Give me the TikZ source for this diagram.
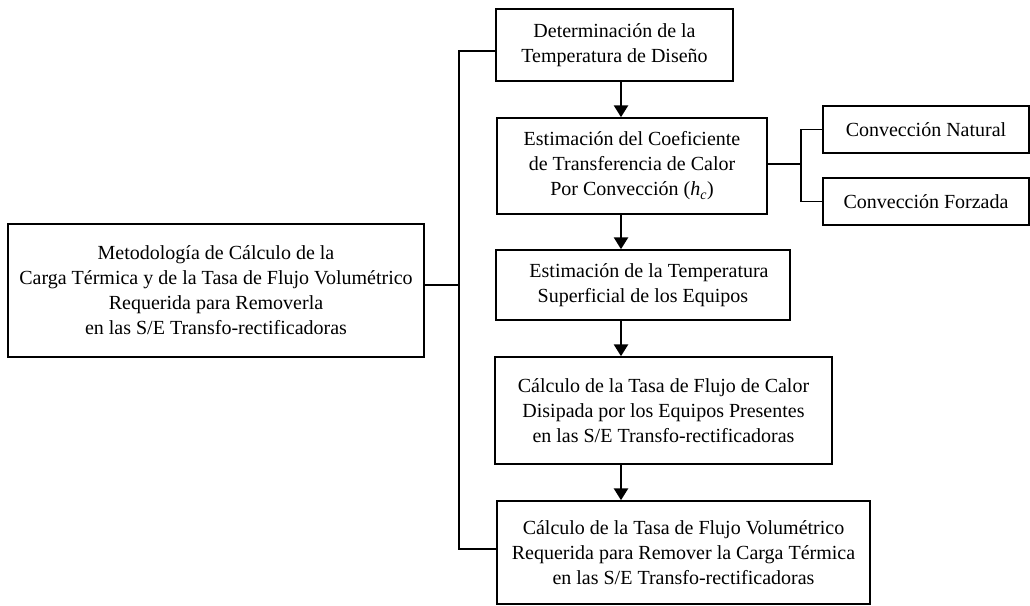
\documentclass[tikz,border=0pt]{standalone}
\usepackage{fontspec}
\setmainfont{Liberation Serif}
\usetikzlibrary{arrows.meta}
\begin{document}
\begin{tikzpicture}[x=1pt,y=-1pt,
  box/.style={draw, line width=1.5pt, align=center, inner sep=0pt,
    font=\fontsize{20}{25}\selectfont},
  conn/.style={line width=1.1pt},
  arr/.style={line width=2.8pt, -{Triangle[length=12pt,width=14pt]}}]
\useasboundingbox (0,0) rectangle (1030,605);
\fill[white] (0,0) rectangle (1030,605);
\node[box, minimum width=416pt, minimum height=133pt] (lb) at (216,290.5)
  {Metodología de Cálculo de la\\Carga Térmica y de la Tasa de Flujo Volumétrico\\Requerida para Removerla\\en las S/E Transfo-rectificadoras};
\node[box, minimum width=237pt, minimum height=72pt] (b1) at (614.5,45)
  {Determinación de la\\Temperatura de Diseño};
\node[box, minimum width=270pt, minimum height=96pt] (b2) at (632,166)
  {Estimación del Coeficiente\\de Transferencia de Calor\\Por Convección (\textit{h}\textsubscript{\textit{c}})};
\node[box, minimum width=294pt, minimum height=70pt] (b3) at (643,285)
  {\hspace*{12pt}Estimación de la Temperatura\\Superficial de los Equipos};
\node[box, minimum width=337pt, minimum height=107pt] (b4) at (663.5,410.5)
  {Cálculo de la Tasa de Flujo de Calor\\Disipada por los Equipos Presentes\\en las S/E Transfo-rectificadoras};
\node[box, minimum width=373pt, minimum height=103pt] (b5) at (683.5,552.5)
  {Cálculo de la Tasa de Flujo Volumétrico\\Requerida para Remover la Carga Térmica\\en las S/E Transfo-rectificadoras};
\node[box, minimum width=206pt, minimum height=47pt] (cn) at (926,129.5)
  {Convección Natural};
\node[box, minimum width=206pt, minimum height=47pt] (cf) at (926,201.5)
  {Convección Forzada};
% trunk
\coordinate (jt) at (459,51);
\coordinate (jm) at (459,285);
\coordinate (jb) at (459,549);
\draw[conn] (b1.west |- jt) -- (jt) -- (jb) -- (b5.west |- jb);
\draw[conn] (lb.east |- jm) -- (jm);
% branch
\coordinate (br) at (801,164);
\draw[conn] (b2.east |- br) -- (br);
\draw[conn] (cn.west) -| (br) |- (cf.west);
% arrows
\coordinate (ax) at (621,0);
\draw[arr] (b1.south -| ax) -- (b2.north -| ax);
\draw[arr] (b2.south -| ax) -- (b3.north -| ax);
\draw[arr] (b3.south -| ax) -- (b4.north -| ax);
\draw[arr] (b4.south -| ax) -- (b5.north -| ax);
\end{tikzpicture}
\end{document}
